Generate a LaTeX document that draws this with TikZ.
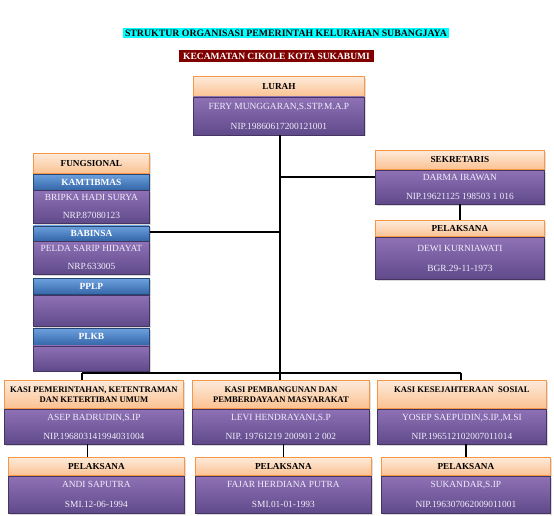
\documentclass[tikz,border=0pt]{standalone}
\usepackage{fontspec}
\setmainfont{Liberation Serif}
\usetikzlibrary{positioning,shadows}

\definecolor{headtop}{RGB}{253,234,218}
\definecolor{headbot}{RGB}{251,194,146}
\definecolor{headline}{RGB}{247,150,70}
\definecolor{purptop}{RGB}{143,113,182}
\definecolor{purpbot}{RGB}{96,74,138}
\definecolor{bluetop}{RGB}{108,160,222}
\definecolor{bluebot}{RGB}{52,102,168}
\definecolor{titlecyan}{RGB}{0,255,255}
\definecolor{titlered}{RGB}{128,0,0}
\definecolor{nametext}{RGB}{242,238,250}

\begin{document}
\begin{tikzpicture}[x=1pt,y=-1pt,
    titlebox/.style={font=\fontsize{9.8}{10}\selectfont\bfseries, inner xsep=0pt, text height=6.8pt, text depth=0pt},
    headbox/.style={draw=headline, line width=0.8pt, top color=headtop, bottom color=headbot,
        font=\fontsize{9.2}{10.5}\selectfont\bfseries, align=center, inner sep=0pt, anchor=north west,
        drop shadow={opacity=0.25, shadow xshift=1.2pt, shadow yshift=-1.2pt}},
    namebox/.style={top color=purptop, bottom color=purpbot, draw=purpbot!70!black, line width=0.4pt,
        text=nametext, font=\fontsize{9.4}{10}\selectfont, align=center, inner sep=0pt,
        drop shadow={opacity=0.3, shadow xshift=1.5pt, shadow yshift=-1.5pt}},
    barbox/.style={top color=bluetop, bottom color=bluebot, draw=bluebot!70!black, line width=0.4pt,
        text=white, font=\fontsize{9.4}{10.5}\selectfont\bfseries, inner sep=0pt,
        drop shadow={opacity=0.3, shadow xshift=1.2pt, shadow yshift=-1.2pt}},
    link/.style={line width=1.6pt}]
\useasboundingbox (0,0) rectangle (554,516);

% judul
\node[titlebox, fill=titlecyan, inner ysep=1.6pt, minimum width=326] (title) at (286,33)
    {STRUKTUR ORGANISASI PEMERINTAH KELURAHAN SUBANGJAYA};
\node[titlebox, font=\fontsize{9.5}{10}\selectfont\bfseries, fill=titlered, text=white, inner ysep=2.6pt, minimum width=195] (subtitle) at (276.5,56)
    {KECAMATAN CIKOLE KOTA SUKABUMI};

% lurah
\node[headbox, minimum width=171, minimum height=20] (lurah) at (193,76) {LURAH};
\node[namebox, minimum width=171, minimum height=38, below=0pt of lurah] (lurahbody)
    {FERY MUNGGARAN,S.STP.M.A.P\\[10pt]NIP.19860617200121001};

% fungsional
\node[headbox, minimum width=116, minimum height=20] (fung) at (33,153) {FUNGSIONAL};
\node[barbox, minimum width=116, minimum height=16, below=0pt of fung] (kamtib) {KAMTIBMAS};
\node[namebox, minimum width=116, minimum height=33, below=0pt of kamtib] (kamtibbody)
    {BRIPKA HADI SURYA\\[8pt]NRP.87080123};
\node[barbox, minimum width=116, minimum height=15, below=2pt of kamtibbody] (babinsa) {BABINSA};
\node[namebox, minimum width=116, minimum height=33, below=0pt of babinsa] (babinsabody)
    {PELDA SARIP HIDAYAT\\[8pt]NRP.633005};
\node[barbox, minimum width=116, minimum height=16, below=4pt of babinsabody] (pplp) {PPLP};
\node[namebox, minimum width=116, minimum height=31, below=0pt of pplp] (pplpbody) {};
\node[barbox, minimum width=116, minimum height=17, below=2pt of pplpbody] (plkb) {PLKB};
\node[namebox, minimum width=116, minimum height=25, below=0pt of plkb] (plkbbody) {};

% sekretaris
\node[headbox, minimum width=169, minimum height=19] (sek) at (375,150) {SEKRETARIS};
\node[namebox, minimum width=169, minimum height=34, below=0pt of sek] (sekbody)
    {DARMA IRAWAN\\[9pt]NIP.19621125 198503 1 016};
\node[headbox, minimum width=169, minimum height=16, below=16pt of sekbody, anchor=north] (sekpel) {PELAKSANA};
\node[namebox, minimum width=169, minimum height=42, below=0pt of sekpel] (sekpelbody)
    {DEWI KURNIAWATI\\[10pt]BGR.29-11-1973};

% kasi
\node[headbox, font=\fontsize{8.6}{10}\selectfont\bfseries, minimum width=179, minimum height=28] (kasi1) at (4,380)
    {KASI PEMERINTAHAN, KETENTRAMAN\\DAN KETERTIBAN UMUM};
\node[namebox, minimum width=179, minimum height=35, below=0pt of kasi1] (kasi1body)
    {ASEP BADRUDIN,S.IP\\[9pt]NIP.196803141994031004};
\node[headbox, font=\fontsize{8.6}{10}\selectfont\bfseries, minimum width=177, minimum height=28] (kasi2) at (192,380)
    {KASI PEMBANGUNAN DAN\\PEMBERDAYAAN MASYARAKAT};
\node[namebox, minimum width=177, minimum height=35, below=0pt of kasi2] (kasi2body)
    {LEVI HENDRAYANI,S.P\\[9pt]NIP. 19761219 200901 2 002};
\node[headbox, font=\fontsize{8.6}{10}\selectfont\bfseries, minimum width=169, minimum height=28] (kasi3) at (377,380)
    {KASI KESEJAHTERAAN\ \ SOSIAL\\~};
\node[namebox, minimum width=169, minimum height=35, below=0pt of kasi3] (kasi3body)
    {YOSEP SAEPUDIN,S.IP.,M.SI\\[9pt]NIP.196512102007011014};

% pelaksana kasi
\node[headbox, minimum width=176, minimum height=18] (pel1) at (8,457) {PELAKSANA};
\node[namebox, minimum width=176, minimum height=37, below=0pt of pel1] (pel1body)
    {ANDI SAPUTRA\\[10pt]SMI.12-06-1994};
\node[headbox, minimum width=176, minimum height=18] (pel2) at (195,457) {PELAKSANA};
\node[namebox, minimum width=176, minimum height=37, below=0pt of pel2] (pel2body)
    {FAJAR HERDIANA PUTRA\\[10pt]SMI.01-01-1993};
\node[headbox, minimum width=169, minimum height=18] (pel3) at (381,457) {PELAKSANA};
\node[namebox, minimum width=169, minimum height=37, below=0pt of pel3] (pel3body)
    {SUKANDAR,S.IP\\[10pt]NIP.196307062009011001};

% garis
\coordinate (busL) at (82,373);
\coordinate (busR) at (461,373);
\coordinate (jsek) at (280,177);
\coordinate (jfung) at (280,232);
\draw[link] (lurahbody.south -| jsek) -- (jsek |- busL);
\draw[link] (busL) -- (busR);
\draw[link] (busL) -- (busL |- kasi1.north);
\draw[link] (jsek |- busL) -- (jsek |- kasi2.north);
\draw[link] (busR) -- (busR |- kasi3.north);
\draw[link] (jsek) -- (jsek -| sek.west);
\draw[link] (jfung) -- (jfung -| babinsa.east);
\draw[link] (sekbody.south) -- (sekpel.north);
\draw[link] ([xshift=-9pt]pel1.north |- kasi1body.south) -- ([xshift=-9pt]pel1.north);
\draw[link] (pel2.north |- kasi2body.south) -- (pel2.north);
\draw[link] (pel3.north |- kasi3body.south) -- (pel3.north);
\end{tikzpicture}
\end{document}
